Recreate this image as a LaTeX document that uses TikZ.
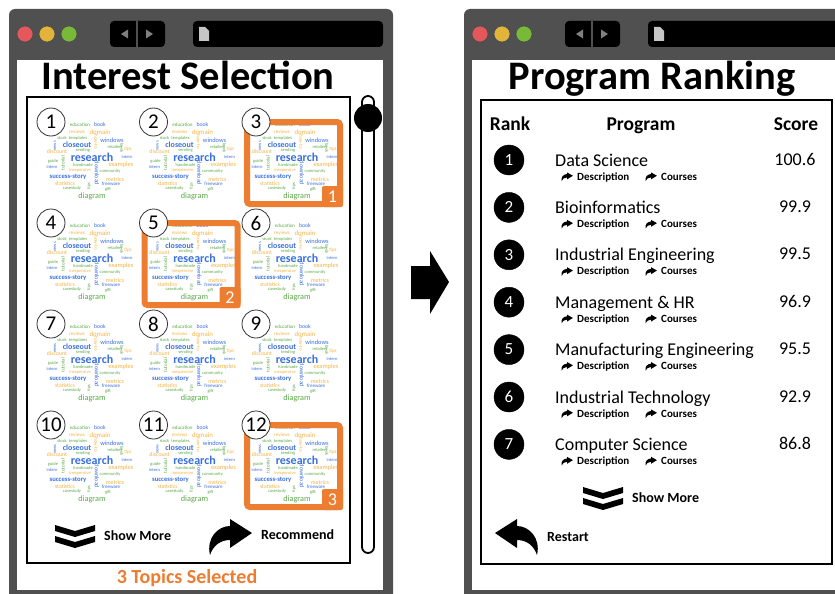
\documentclass[tikz,border=0pt]{standalone}
\usepackage{fontspec}
\setmainfont{Carlito}
\usepackage{xcolor}
\usepackage{tikz}
\usetikzlibrary{positioning}

\definecolor{chrome}{RGB}{80,80,80}
\definecolor{hlorange}{RGB}{237,125,49}
\definecolor{wblue}{RGB}{58,112,222}
\definecolor{wgreen}{RGB}{90,170,70}
\definecolor{wyellow}{RGB}{245,180,70}
\definecolor{lred}{RGB}{228,88,92}
\definecolor{lyellow}{RGB}{226,180,60}
\definecolor{lgreen}{RGB}{120,186,56}

\begin{document}
\begin{tikzpicture}[x=1pt, y=-1pt,
  title/.style={font=\fontsize{40.5}{40.5}\selectfont\bfseries, inner sep=0pt, anchor=base},
  panel/.style={draw, line width=1.6pt},
  topic/.style={circle, draw=black!80, line width=.8pt, fill=white, minimum size=28pt, inner sep=0pt, font=\fontsize{21}{21}\selectfont},
  pick/.style={draw=hlorange, line width=6pt, rounded corners=3pt},
  badge/.style={fill=hlorange, rounded corners=2pt, minimum size=21pt, inner sep=0pt, text=white, font=\fontsize{18}{18}\selectfont},
  btn/.style={font=\fontsize{14}{14}\selectfont\bfseries, inner sep=0pt, anchor=base west},
  head/.style={font=\fontsize{19.5}{19.5}\selectfont\bfseries, inner sep=0pt, anchor=base},
  rk/.style={circle, fill=black, draw=black, minimum size=30pt, inner sep=0pt, text=white, font=\fontsize{17}{17}\selectfont},
  prog/.style={font=\fontsize{18}{18}\selectfont, inner sep=0pt},
  lnk/.style={font=\fontsize{11}{11}\selectfont\bfseries, inner sep=0pt, anchor=base west},
  pics/browser/.style={code={
    \fill[chrome, rounded corners=6pt] (0,0) rectangle (#1,600);
    \fill[white] (8,51) rectangle (#1-10,581);
    \foreach \wc [count=\k] in {lred,lyellow,lgreen}
      \filldraw[fill=\wc, draw=black!70, line width=.6pt] (-6+22*\k,25) circle (8);
    \fill[black, rounded corners=4pt] (101,12) rectangle (156,38);
    \draw[chrome, line width=1.2pt] (128,12) -- (128,38);
    \fill[gray] (112,25) -- (119,20.5) -- (119,29.5) -- cycle;
    \fill[gray] (144,25) -- (137,20.5) -- (137,29.5) -- cycle;
    \fill[black, rounded corners=4pt] (184,12) rectangle (#1-10,38);
    \fill[gray!45] (190,18) -- (196,18) -- (200,22) -- (200,32) -- (190,32) -- cycle;
  }},
  cloud/.pic={
    \foreach \dx/\dy/\w/\wc/\ws/\wr/\wf [count=\k] in {
      29/5/education/wgreen/5/0/m, 49/5/book/wblue/5.7/0/m,
      26/12/reviews/wyellow/5/0/m, 49/12/domain/wyellow/6.8/0/m,
      11/18/stock/wgreen/4.5/0/m, 27/18/templates/wgreen/4.5/0/m,
      45/22/how-to/wyellow/5/-90/m, 61/20/windows/wblue/6.4/0/m,
      4/26/news/wblue/4.5/90/m, 26/24.5/closeout/wblue/8/0/b,
      64/27/retailers/wgreen/4.5/0/m, 71/28/book/wgreen/4.5/-90/m,
      77/29/tips/wyellow/5/0/m, 6/32/discount/wyellow/5.8/0/m,
      32/30.5/sending/wgreen/4.5/0/m, 41/37/research/wblue/12/0/b,
      76/37/intern/wblue/4.5/0/m, 2/41/guide/wgreen/4.5/0/m,
      12/43/tutorial/wgreen/5/90/m, 32/45/handmade/wgreen/4.5/0/m,
      70/45/examples/wyellow/6.5/0/m, 1/47/intern/wblue/4.5/0/m,
      29/50.5/inexpensive/wyellow/4.5/0/m, 46/53/download/wblue/6/-90/m,
      59/51/community/wgreen/4.5/0/m, 17/57/success-story/wblue/6.7/0/b,
      64/59/metrics/wyellow/6/0/m, 14/63.5/statistics/wyellow/5.7/0/m,
      38/66/tips/wgreen/4.5/90/m, 60/64/freeware/wblue/5/0/m,
      21/68.5/casestudy/wgreen/4.5/0/m, 57/69/gift/wgreen/4.5/0/m,
      41/76/diagram/wgreen/8.2/0/m}
      \node[inner sep=0pt, text=\wc, rotate=\wr, font=\fontsize{\ws}{\ws}\fontseries{\wf}\selectfont] (-w\k) at (\dx,\dy) {\w};
  },
  chevs/.pic={
    \fill (-20,-11) -- (0,-5) -- (20,-11) -- (20,-5) -- (0,1) -- (-20,-5) -- cycle;
    \fill (-20,0) -- (0,6) -- (20,0) -- (20,6) -- (0,12) -- (-20,6) -- cycle;
  },
  fwd/.pic={
    \fill (0,-15) -- (22,-1) -- (0,14) -- (0,6) .. controls (-10,6) and (-17,12) .. (-20,21)
      .. controls (-24,4) and (-12,-8) .. (0,-8) -- cycle;
  }]
\useasboundingbox (0,0) rectangle (835,594);
\clip (0,0) rectangle (835,594);

% Fenster
\pic at (9,9) {browser=384};
\pic at (464,9) {browser=400};

% Interest Selection
\node[title] (isel) at (188,89) {Interest Selection};
\draw[panel] (27,97) rectangle (350,563);
\draw[line width=1.8pt, rounded corners=6pt] (362,96) rectangle (374,553);
\fill (368,118) circle (14);

\foreach \n in {1,...,12}{
  \pgfmathsetmacro\cx{51+102.5*mod(\n-1,3)}
  \pgfmathsetmacro\cy{122+101*int((\n-1)/3)}
  \pic (cl\n) at (\cx,\cy-2) {cloud};
}
\foreach \n/\b in {3/1,5/2,12/3}{
  \pgfmathsetmacro\cx{51+102.5*mod(\n-1,3)}
  \pgfmathsetmacro\cy{122+101*int((\n-1)/3)}
  \draw[pick] (\cx-9,\cy) rectangle (\cx+84,\cy+82);
  \node[badge] (b\n) at (\cx+76.5,\cy+74.5) {\b};
}
\foreach \n in {1,...,12}{
  \pgfmathsetmacro\cx{51+102.5*mod(\n-1,3)}
  \pgfmathsetmacro\cy{122+101*int((\n-1)/3)}
  \node[topic] (t\n) at (\cx,\cy) {\n};
}

\coordinate (chev1) at (75,536);
\pic at (chev1) {chevs};
\node[btn, right=29pt of chev1.center, anchor=west] (more1) {Show More};
\coordinate (rec1) at (230,534);
\pic at (rec1) {fwd};
\node[btn] (rec) at (261,539) {Recommend};
\node[font=\fontsize{20}{20}\selectfont\bfseries, text=hlorange, inner sep=0pt] (nsel) at (187,578) {3 Topics Selected};

% Pfeil
\fill (411,266) -- (430,266) -- (430,251) -- (449,282) -- (430,314) -- (430,299) -- (411,299) -- cycle;

% Program Ranking
\node[title] (prank) at (652,89) {Program Ranking};
\draw[panel] (481,100) rectangle (832,564);
\node[head] (hrank) at (510,130) {Rank};
\node[head] (hprog) at (641,130) {Program};
\node[head] (hscore) at (796,130) {Score};

\foreach \p/\sc [count=\i] in {Data Science/100.6, Bioinformatics/99.9,
    Industrial Engineering/99.5, Management \& HR/96.9,
    Manufacturing Engineering/95.5, Industrial Technology/92.9,
    Computer Science/86.8}{
  \pgfmathsetmacro\ry{160+47.4*(\i-1)}
  \node[rk] (r\i) at (509,\ry) {\i};
  \node[prog, anchor=base west] (p\i) at (555,\ry+6) {\p};
  \node[prog, anchor=base] (s\i) at (795,\ry+5) {\sc};
  \pic[xscale=.27, yscale=.24] at (567,\ry+16) {fwd};
  \node[lnk] (d\i) at (577,\ry+20) {Description};
  \pic[xscale=.27, yscale=.24] at (651,\ry+16) {fwd};
  \node[lnk] (c\i) at (661,\ry+20) {Courses};
}

\coordinate (chev2) at (603,498);
\pic at (chev2) {chevs};
\node[btn, right=29pt of chev2.center, anchor=west] (more2) {Show More};
\coordinate (back) at (517,534);
\pic[xscale=-1] at (back) {fwd};
\node[btn] (restart) at (547,541) {Restart};
\end{tikzpicture}
\end{document}
